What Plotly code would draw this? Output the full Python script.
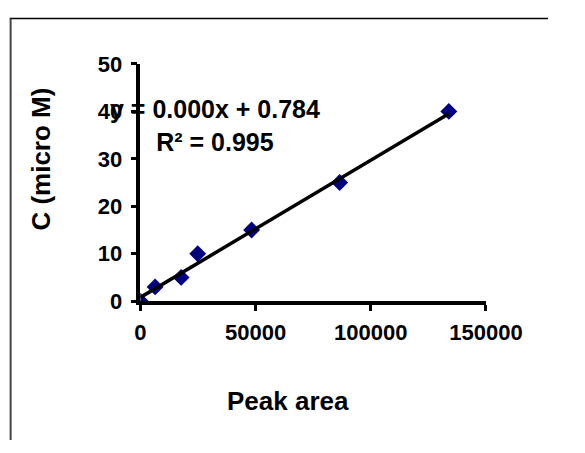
import plotly.graph_objects as go
import numpy as np

# Data
peak_area = [0, 6400, 17700, 24900, 48300, 86500, 133900]
conc_uM = [0, 3, 5, 10, 15, 25, 40]
trend_slope = 0.000289
trend_intercept = 0.784
x_ticks = [0, 50000, 100000, 150000]
y_ticks = [0, 10, 20, 30, 40, 50]

W, H = 585, 453
def px(x): return x / W
def py(y): return 1 - y / H

FONT = "Liberation Sans"

fig = go.Figure()

tx = np.array([min(peak_area), max(peak_area)], dtype=float)
fig.add_trace(go.Scatter(
    x=peak_area, y=conc_uM, mode="markers",
    marker=dict(symbol="diamond", size=13, color="#000080", line=dict(width=0)),
    showlegend=False, hoverinfo="skip"))
fig.add_trace(go.Scatter(
    x=tx, y=trend_slope * tx + trend_intercept, mode="lines",
    line=dict(color="black", width=3.5), showlegend=False, hoverinfo="skip"))

fig.update_layout(
    width=W, height=H,
    margin=dict(l=0, r=0, t=0, b=0),
    paper_bgcolor="white", plot_bgcolor="white",
    font=dict(family=FONT, color="black"),
    xaxis=dict(domain=[px(145), px(518)], range=[0, 150000],
               tickvals=x_ticks, ticktext=["<b>%d</b>" % v for v in x_ticks],
               showgrid=False, zeroline=False, showline=True,
               linecolor="black", linewidth=3.5,
               ticks="outside", ticklen=6, tickwidth=3, tickcolor="black",
               tickfont=dict(family=FONT, size=22, color="black"),
               ticklabelstandoff=3),
    yaxis=dict(domain=[py(306), py(55)], range=[0, 50],
               tickvals=y_ticks, ticktext=["<b>%d</b>" % v for v in y_ticks],
               showgrid=False, zeroline=False, showline=True,
               linecolor="black", linewidth=3.5,
               ticks="outside", ticklen=6, tickwidth=3, tickcolor="black",
               tickfont=dict(family=FONT, size=22, color="black"),
               ticklabelstandoff=4),
)

fig.add_annotation(x=px(304), y=py(412), xref="paper", yref="paper",
                   xanchor="center", yanchor="middle",
                   text="<b>Peak area</b>", showarrow=False,
                   font=dict(family=FONT, size=26, color="black"))
fig.add_annotation(x=px(38), y=py(156), xref="paper", yref="paper",
                   xanchor="center", yanchor="middle",
                   text="<b>C (micro M)</b>", showarrow=False, textangle=-90,
                   font=dict(family=FONT, size=26, color="black"))
fig.add_annotation(x=px(226), y=py(120), xref="paper", yref="paper",
                   xanchor="center", yanchor="middle",
                   text="<b>y = 0.000x + 0.784<br>R² = 0.995</b>", showarrow=False,
                   align="center",
                   font=dict(family=FONT, size=25, color="black"))

fig.add_shape(type="line", xref="paper", yref="paper",
              x0=px(4), x1=1, y0=py(7), y1=py(7),
              line=dict(color="black", width=1.5))
fig.add_shape(type="line", xref="paper", yref="paper",
              x0=px(5), x1=px(5), y0=py(7), y1=0,
              line=dict(color="#444444", width=2))

fig.write_html("out.html")
